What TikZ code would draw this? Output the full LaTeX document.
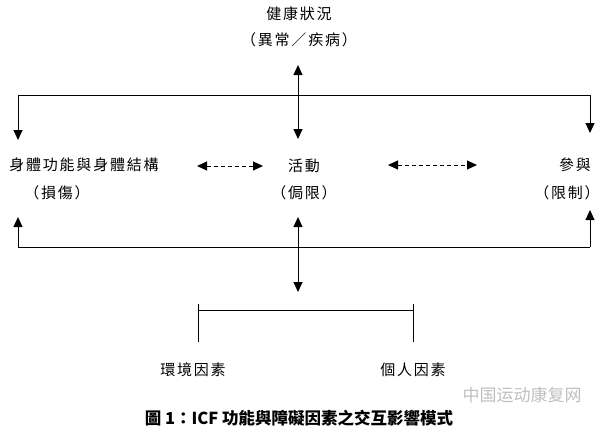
\documentclass[tikz,border=0pt]{standalone}
\usepackage{fontspec}
\newfontfamily\cjk[LetterSpace=12]{Noto Sans CJK TC}
\newfontfamily\cjkcap{Noto Sans CJK TC}
\newfontfamily\cjkwm{Noto Sans CJK SC}
\usetikzlibrary{arrows.meta,positioning}

\begin{document}
\begin{tikzpicture}[x=1pt,y=-1pt,node distance=14pt,every node/.style={font=\cjk\fontsize{15}{17}\selectfont,inner sep=0pt},tip/.style={-{Triangle[width=9pt,length=10pt]},line width=1pt},dtip/.style={{Triangle[width=9pt,length=10pt]}-{Triangle[width=9pt,length=10pt]},line width=1pt},dashtip/.style={dtip,dashed,dash pattern=on 4pt off 3pt},ln/.style={line width=1pt}]
\useasboundingbox (0,0) rectangle (609,431);
\node (health) at (299,14) {健康狀況};
\node (healthsub) at (299,40) {（異常／疾病）};
\node (body) at (84,165) {身體功能與身體結構};
\node (bodysub) at (57,193) {（損傷）};
\node (act) at (304,166) {活動};
\node (actsub) at (304,193) {（侷限）};
\node (part) at (575,165) {參與};
\node (partsub) at (567,193) {（限制）};
\node (env) at (193,370) {環境因素};
\node (pers) at (413,370) {個人因素};
\node[font=\cjkcap\bfseries\fontsize{16.5}{18}\selectfont] (cap) at (299,418) {圖 1：ICF 功能與障礙因素之交互影響模式};
\node[font=\cjkwm\fontsize{17}{18}\selectfont,text=black!25] (wm) at (522,395) {中国运动康复网};
% upper frame
\coordinate (tl) at (18,95);
\coordinate (tr) at (590,95);
\coordinate (tlo) at (18,140);
\coordinate (tro) at (590,133);
\coordinate (mtop) at (298,65);
\coordinate (mbot) at (298,139);
\draw[ln] (tl) -- (tr);
\draw[tip] (tl) -- (tlo);
\draw[tip] (tr) -- (tro);
\draw[dtip] (mbot) -- (mtop);
% middle
\coordinate (la) at (197,166);
\coordinate (lb) at (263,166);
\coordinate (ra) at (388,165);
\coordinate (rb) at (477,165);
\draw[dashtip] (la) -- (lb);
\draw[dashtip] (ra) -- (rb);
% lower frame
\coordinate (bl) at (18,247);
\coordinate (br) at (590,247);
\coordinate (blo) at (18,217);
\coordinate (bro) at (590,210);
\coordinate (mup) at (298,217);
\coordinate (mdn) at (298,292);
\draw[ln] (bl) -- (br);
\draw[tip] (bl) -- (blo);
\draw[tip] (br) -- (bro);
\draw[dtip] (mup) -- (mdn);
% factors bracket
\coordinate (fl) at (198,304);
\coordinate (fr) at (413,304);
\draw[ln] (fl) -- ++(0,38);
\draw[ln] (fr) -- ++(0,38);
\draw[ln] (198,310) -- (413,310);
\end{tikzpicture}
\end{document}
